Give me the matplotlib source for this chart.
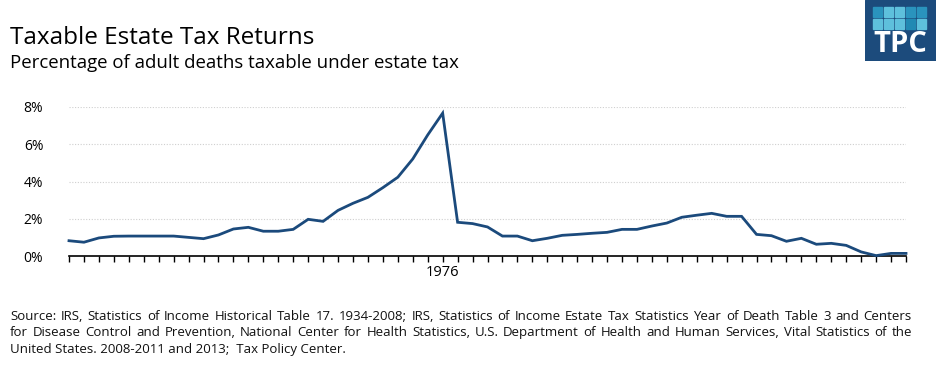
import matplotlib
matplotlib.use('Agg')
from matplotlib import pyplot as plt
from matplotlib.patches import Rectangle

plt.rcParams['font.family'] = ['Open Sans', 'DejaVu Sans']

years = list(range(1951, 2008))
pct_taxable = [0.82, 0.74, 0.97, 1.06, 1.07, 1.07, 1.07, 1.07, 1.00, 0.93,
               1.13, 1.45, 1.54, 1.33, 1.33, 1.43, 1.97, 1.86, 2.45, 2.83,
               3.15, 3.67, 4.23, 5.21, 6.50, 7.67, 1.81, 1.74, 1.56, 1.07,
               1.07, 0.82, 0.95, 1.11, 1.16, 1.22, 1.27, 1.43, 1.43, 1.61,
               1.77, 2.08, 2.19, 2.29, 2.13, 2.13, 1.16, 1.09, 0.79, 0.95,
               0.63, 0.68, 0.57, 0.22, 0.02, 0.14, 0.14]
labeled_years = [1976]
y_ticks = [0, 2, 4, 6, 8]
y_labels = ['0%', '2%', '4%', '6%', '8%']

title = 'Taxable Estate Tax Returns'
subtitle = 'Percentage of adult deaths taxable under estate tax'
source_lines = [
    'Source:  IRS, Statistics of Income Historical Table 17. 1934-2008; IRS, Statistics of Income Estate Tax Statistics Year of Death Table 3 and Centers',
    'for Disease Control and Prevention, National Center for Health Statistics, U.S. Department  of Health and Human Services, Vital Statistics of the',
    'United States. 2008-2011 and 2013;  Tax Policy Center.',
]

W, H = 936, 369
fig = plt.figure(figsize=(W / 100, H / 100), dpi=100)

# main plot area
ax = fig.add_axes([69 / W, 1 - 256 / H, (906 - 69) / W, (256 - 107) / H])
x = list(range(len(years)))
ax.plot(x, pct_taxable, color='#1b4a7c', lw=2.0, solid_joinstyle='miter', clip_on=False, zorder=3)
ax.set_xlim(0, len(years) - 1)
ax.set_ylim(0, 8)
ax.set_yticks(y_ticks)
ax.set_yticklabels(y_labels)
ax.set_xticks(x)
ax.set_xticklabels([str(y) if y in labeled_years else '' for y in years])
for s in ['top', 'right', 'left']:
    ax.spines[s].set_visible(False)
ax.spines['bottom'].set_color('black')
ax.spines['bottom'].set_linewidth(1.2)
ax.tick_params(axis='x', direction='out', length=4.5, width=1, color='black',
               labelsize=10.5, pad=2)
ax.tick_params(axis='y', length=0, labelsize=10, pad=18.5)
for yv in y_ticks[1:]:
    ax.axhline(yv, color='#cfcfcf', lw=0.8, ls=(0, (1, 1.5)), zorder=1)

# titles
fig.text(10 / W, 1 - 38 / H, title, fontsize=17.5, fontweight='medium', va='center', ha='left', color='black')
fig.text(10 / W, 1 - 63 / H, subtitle, fontsize=13.4, va='center', ha='left', color='black')

# source note, spread to full width like the original
fig.canvas.draw()
renderer = fig.canvas.get_renderer()
left_px, right_px = 10, 912
src_size = 9.5
for i, line in enumerate(source_lines):
    ypos = 1 - (316 + i * 16.5) / H
    words = line.split()
    if i == len(source_lines) - 1:
        fig.text(left_px / W, ypos, line, fontsize=src_size, va='center', ha='left', color='#111111')
        continue
    widths = []
    for w in words:
        t = fig.text(0, 0, w, fontsize=src_size)
        widths.append(t.get_window_extent(renderer).width)
        t.remove()
    gap = (right_px - left_px - sum(widths)) / (len(words) - 1)
    xpos = left_px
    for w, wd in zip(words, widths):
        fig.text(xpos / W, ypos, w, fontsize=src_size, va='center', ha='left', color='#111111')
        xpos += wd + gap

# TPC logo
lax = fig.add_axes([865 / W, 1 - 61 / H, 71 / W, 61 / H])
lax.set_xlim(0, 71)
lax.set_ylim(61, 0)
lax.axis('off')
lax.add_patch(Rectangle((0, 0), 71, 61, color='#1c4b7c'))
sq_colors = [['#2a93bd', '#5ec0dc', '#5ec0dc', '#2a93bd', '#2a93bd'],
             ['#5ec0dc', '#5ec0dc', '#5ec0dc', '#2189b3', '#5ec0dc']]
for r, row in enumerate(sq_colors):
    for c, col in enumerate(row):
        lax.add_patch(Rectangle((8 + c * 11, 7 + r * 12), 8.5, 10, color=col))
lax.text(35.5, 45, 'TPC', color='white', fontsize=21, fontweight='bold',
         ha='center', va='center')

fig.savefig('out.png', dpi=100)
